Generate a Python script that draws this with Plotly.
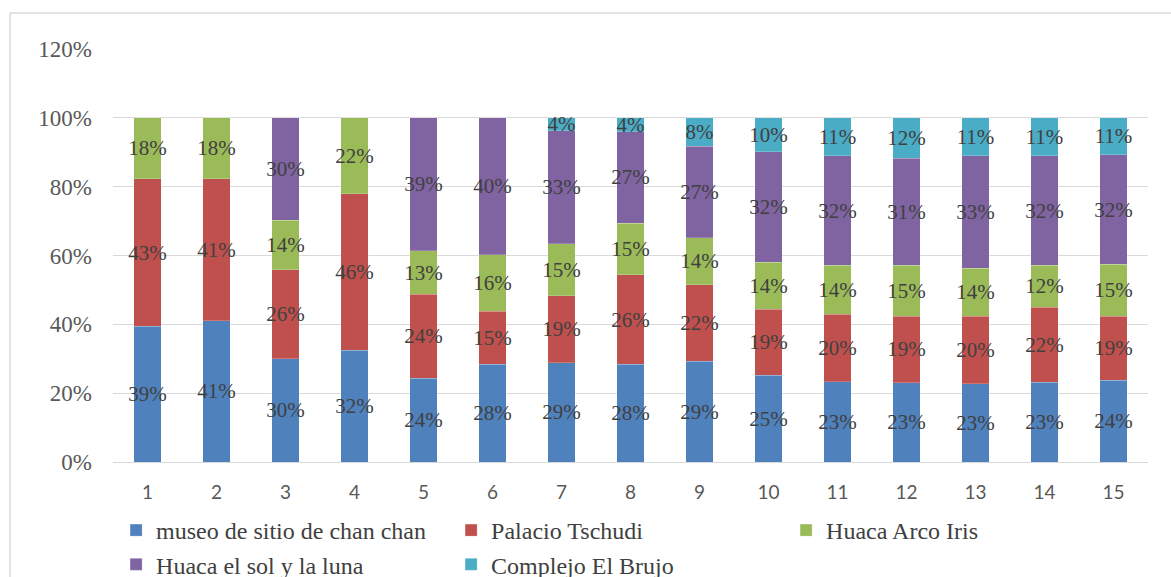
import plotly.graph_objects as go

# Share of visits per site (fractions of 1) for each of the 15 groups
categories = [str(i) for i in range(1, 16)]

museo_chan_chan = [0.394, 0.410, 0.300, 0.324, 0.244, 0.284, 0.289, 0.284, 0.293, 0.252,
                   0.233, 0.231, 0.228, 0.232, 0.238]
palacio_tschudi = [0.429, 0.413, 0.259, 0.456, 0.243, 0.154, 0.194, 0.260, 0.222, 0.192,
                   0.196, 0.193, 0.196, 0.217, 0.186]
huaca_arco_iris = [0.177, 0.177, 0.143, 0.220, 0.127, 0.164, 0.151, 0.150, 0.136, 0.136,
                   0.142, 0.147, 0.139, 0.122, 0.150]
huaca_sol_luna = [None, None, 0.298, None, 0.386, 0.398, 0.328, 0.266, 0.267, 0.322,
                  0.319, 0.311, 0.327, 0.319, 0.319]
complejo_brujo = [None, None, None, None, None, None, 0.038, 0.040, 0.082, 0.098,
                  0.110, 0.118, 0.110, 0.110, 0.107]

series = [
    ("museo de sitio de chan chan", museo_chan_chan, "#4F81BD"),
    ("Palacio Tschudi", palacio_tschudi, "#C0504D"),
    ("Huaca Arco Iris", huaca_arco_iris, "#9BBB59"),
    ("Huaca el sol y la luna", huaca_sol_luna, "#8064A2"),
    ("Complejo El Brujo", complejo_brujo, "#4BACC6"),
]

SERIF = "Liberation Serif"

fig = go.Figure()
for name, values, color in series:
    fig.add_trace(go.Bar(
        name=name,
        x=categories,
        y=values,
        marker=dict(color=color, line=dict(color="rgba(255,255,255,0.35)", width=0.6)),
        texttemplate="%{y:.0%}",
        textposition="inside",
        insidetextanchor="middle",
        textangle=0,
        constraintext="none",
        textfont=dict(family=SERIF, size=21, color="#404040"),
        hoverinfo="name+y",
    ))

fig.update_layout(
    barmode="stack",
    bargap=0.595,
    width=1171,
    height=577,
    margin=dict(l=113, r=23, t=49, b=115, autoexpand=False),
    paper_bgcolor="white",
    plot_bgcolor="white",
    showlegend=True,
    legend=dict(
        orientation="h",
        xref="paper",
        x=0.003,
        xanchor="left",
        yref="container",
        y=1 - 508 / 577,
        yanchor="top",
        entrywidth=290,
        itemwidth=30,
        traceorder="normal",
        font=dict(family=SERIF, size=24, color="#404040"),
        bgcolor="rgba(0,0,0,0)",
    ),
    xaxis=dict(
        type="category",
        showgrid=False,
        showline=True,
        linecolor="#D9D9D9",
        linewidth=1,
        ticks="",
        ticklabelstandoff=13,
        tickfont=dict(family="Lato", size=19, color="#595959"),
    ),
    yaxis=dict(
        range=[0, 1.2],
        tickvals=[0, 0.2, 0.4, 0.6, 0.8, 1.0, 1.2],
        tickformat=".0%",
        showgrid=True,
        gridcolor="#D9D9D9",
        gridwidth=1,
        zeroline=False,
        showline=False,
        ticks="",
        ticklabelstandoff=20,
        tickfont=dict(family=SERIF, size=23, color="#595959"),
    ),
    shapes=[
        # chart-area border (left and top edges)
        dict(type="line", xref="paper", yref="paper",
             x0=(10 - 113) / 1035, x1=(10 - 113) / 1035,
             y0=1 + (49 - 13) / 413, y1=-0.4,
             line=dict(color="#D9D9D9", width=1.5)),
        dict(type="line", xref="paper", yref="paper",
             x0=(10 - 113) / 1035, x1=1.1,
             y0=1 + (49 - 13) / 413, y1=1 + (49 - 13) / 413,
             line=dict(color="#D9D9D9", width=1.5)),
    ],
)

fig.write_html("out.html")
